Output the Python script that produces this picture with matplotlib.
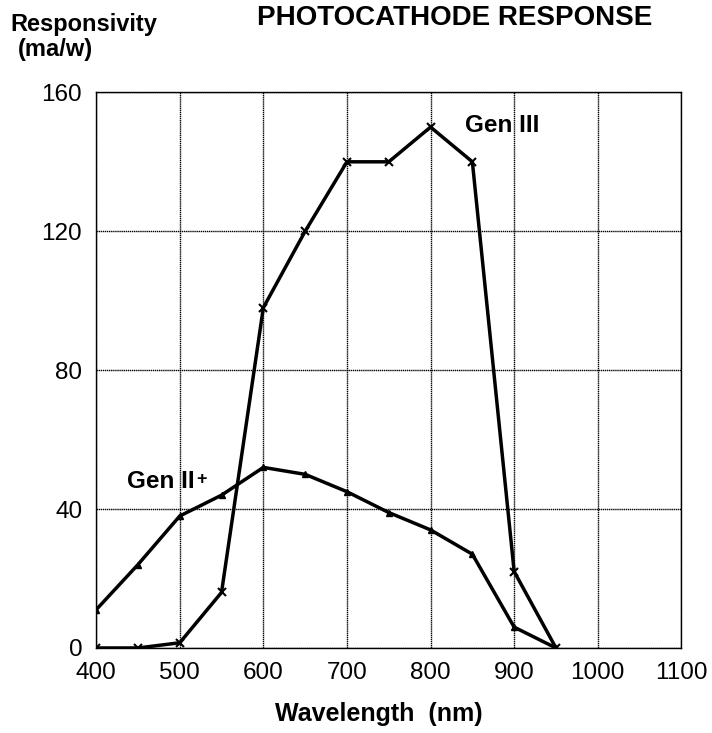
import matplotlib.pyplot as plt

wavelength = [400, 450, 500, 550, 600, 650, 700, 750, 800, 850, 900, 950]
gen3 = [0, 0, 1.5, 16, 98, 120, 140, 140, 150, 140, 22, 0]
gen2plus = [11, 24, 38, 44, 52, 50, 45, 39, 34, 27, 6, 0]
xticks = [400, 500, 600, 700, 800, 900, 1000, 1100]
yticks = [0, 40, 80, 120, 160]

plt.rcParams['font.family'] = ['Liberation Sans', 'DejaVu Sans']

fig = plt.figure(figsize=(7.12, 7.33), dpi=100)
ax = fig.add_axes([0.135, 0.116, 0.822, 0.758])

ax.plot(wavelength, gen3, color='black', linewidth=2.5, marker='x', markersize=6, markeredgewidth=1.5)
ax.plot(wavelength, gen2plus, color='black', linewidth=2.5, marker='^', markersize=5)

ax.set_xlim(400, 1100)
ax.set_ylim(0, 160)
ax.set_xticks(xticks)
ax.set_yticks(yticks)
ax.tick_params(length=0, labelsize=17.5)
ax.tick_params(axis='y', pad=10)
ax.tick_params(axis='x', pad=10)
ax.grid(True, color='black', linestyle=(0, (1, 0.5)), linewidth=1)
for s in ax.spines.values():
    s.set_linewidth(1)

ax.text(886, 150.5, 'Gen III', fontsize=17.5, fontweight='bold', ha='center', va='center')
t = ax.text(437, 48, 'Gen II', fontsize=17.5, fontweight='bold', ha='left', va='center')
ax.annotate('+', xy=(1, 1), xycoords=t, xytext=(1, -1), textcoords='offset points',
            fontsize=13, fontweight='bold', ha='left', va='top')

fig.text(0.638, 0.975, 'PHOTOCATHODE RESPONSE', fontsize=20, fontweight='bold', ha='center', va='center')
fig.text(0.014, 0.966, 'Responsivity', fontsize=17, fontweight='bold', ha='left', va='center')
fig.text(0.025, 0.932, '(ma/w)', fontsize=17, fontweight='bold', ha='left', va='center')
fig.text(0.532, 0.026, 'Wavelength  (nm)', fontsize=18, fontweight='bold', ha='center', va='center')

plt.savefig('out.png')
